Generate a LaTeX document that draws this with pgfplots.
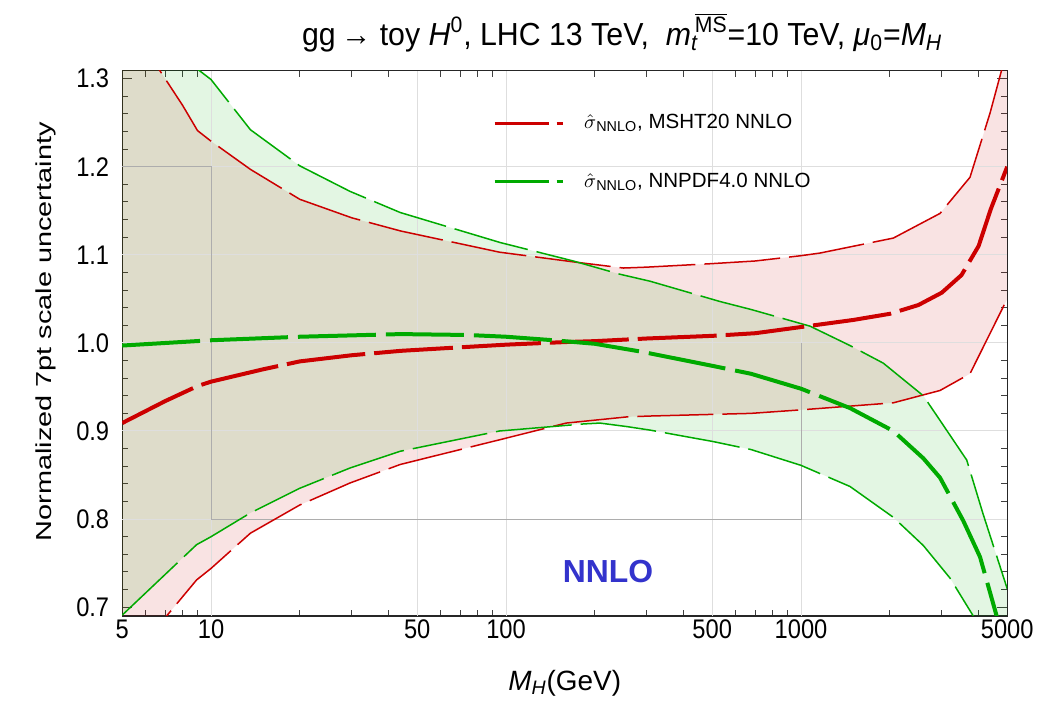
\documentclass[border=0pt]{standalone}
\usepackage{fontspec}
\setmainfont{Liberation Sans}
\newfontfamily\condsans{Liberation Sans}[FakeStretch=0.88]
\newfontfamily\titlesans{Liberation Sans}[FakeStretch=0.95]
\usepackage{graphicx}
\usepackage{pgfplots}
\pgfplotsset{compat=1.18}
\usepgfplotslibrary{fillbetween}
\definecolor{cred}{RGB}{204,0,0}
\definecolor{cgreen}{RGB}{0,170,0}
\definecolor{cblue}{RGB}{51,51,204}

\pgfplotstableread{
x y
5 0.909
7 0.934
9 0.951
10 0.956
15 0.970
20 0.979
30 0.986
44 0.991
70 0.995
100 0.998
160 1.001
200 1.002
300 1.005
500 1.008
700 1.011
1000 1.018
1500 1.026
2000 1.033
2500 1.043
3000 1.057
3500 1.077
4000 1.110
4400 1.152
5000 1.200
}\rc
\pgfplotstableread{
x y
5 1.380
6.68 1.310
8 1.270
9 1.241
10 1.229
13.6 1.197
20 1.163
30 1.142
44 1.127
95 1.103
169 1.092
250 1.085
300 1.086
500 1.090
700 1.093
1000 1.099
1160 1.102
2056 1.119
2960 1.147
3740 1.188
4374 1.261
4790 1.310
5000 1.335
}\ru
\pgfplotstableread{
x y
5 0.630
7.07 0.690
8.94 0.731
10 0.744
13.6 0.784
20 0.816
29.6 0.841
43.8 0.862
95 0.890
160 0.909
257 0.916
308 0.917
676 0.920
1000 0.924
2056 0.932
2960 0.946
3740 0.965
5000 1.050
}\rl
\pgfplotstableread{
x y
5 0.997
10 1.003
20 1.007
44 1.010
74 1.009
100 1.007
145 1.003
200 0.999
288 0.990
500 0.974
676 0.965
1000 0.948
1466 0.926
2056 0.900
2598 0.869
2960 0.847
3550 0.798
4045 0.757
4605 0.690
5000 0.649
}\gc
\pgfplotstableread{
x y
5 1.410
9.06 1.310
10 1.299
13.6 1.242
20 1.201
29.6 1.172
43.8 1.148
95.4 1.114
169 1.093
243 1.078
308 1.070
531 1.047
676 1.038
1073 1.019
1466 0.997
1901 0.977
2598 0.940
2960 0.912
3646 0.867
4140 0.806
5000 0.721
}\gu
\pgfplotstableread{
x y
5 0.691
8.94 0.771
10 0.780
13.6 0.807
20 0.835
29.6 0.858
43.8 0.877
95 0.900
183 0.908
208 0.909
257 0.905
308 0.901
504 0.888
676 0.879
1000 0.861
1466 0.837
2056 0.802
2598 0.770
3200 0.733
3837 0.690
5000 0.600
}\gl

\begin{document}
\begin{tikzpicture}
\begin{axis}[
  xmode=log, log basis x=10,
  scale only axis, width=442.5bp, height=272.65bp,
  xmin=5, xmax=5000, ymin=0.69, ymax=1.309,
  xtick={5,10,50,100,500,1000,5000},
  xticklabels={5,10,50,100,500,1000,5000},
  minor xtick={6,7,8,9,20,30,40,60,70,80,90,200,300,400,600,700,800,900,2000,3000,4000},
  ytick={0.7,0.8,0.9,1.0,1.1,1.2,1.3},
  yticklabels={0.7,0.8,0.9,1.0,1.1,1.2,1.3},
  minor ytick={0.72,0.74,0.76,0.78,0.82,0.84,0.86,0.88,0.92,0.94,0.96,0.98,1.02,1.04,1.06,1.08,1.12,1.14,1.16,1.18,1.22,1.24,1.26,1.28,1.30},
  tick label style={font=\condsans\fontsize{13.5}{14}\selectfont},
  /pgf/number format/assume math mode=true,
  xticklabel style={yshift=1.5bp},
  yticklabel style={xshift=-3bp},
  major tick length=5bp, minor tick length=3bp,
  tick style={black!75, line width=0.5bp},
  axis line style={black!85, line width=0.7bp},
  xlabel={\textit{M}\textsubscript{\textit{H}}(GeV)},
  xlabel style={font=\fontsize{14}{14}\selectfont, at={(axis description cs:0.5,0)}, anchor=base, yshift=-37bp},
  ylabel={\scalebox{1}[0.75]{Normalized 7pt scale uncertainty}},
  ylabel style={font=\fontsize{14.5}{14.5}\selectfont, at={(axis description cs:-0.0859,0.521)}, anchor=center},
  title={gg\,→ toy \textit{H}\textsuperscript{0}, LHC 13 TeV,\ \ \textit{m}\rlap{\textsubscript{\textit{t}}}\textsuperscript{\,$\overline{\mbox{MS}}$}=10 TeV, \textit{μ}\textsubscript{0}=\textit{M}\textsubscript{\textit{H}}},
  title style={font=\titlesans\fontsize{16}{16}\selectfont, at={(axis description cs:0.565,1)}, anchor=base, yshift=6.8bp},
  legend style={at={(axis description cs:0.412,0.9315)}, anchor=north west, draw=none, fill=none,
    font=\fontsize{10.3}{11}\selectfont, row sep=18.5bp, nodes={inner sep=1bp}},
  legend cell align=left,
]
\coordinate (ll) at (rel axis cs:0,0);
\coordinate (ur) at (rel axis cs:1,1);
% grid
\pgfplotsinvokeforeach{10,50,100,500,1000}{
  \draw[black!13, line width=0.5bp] (axis cs:#1,0.69) -- (axis cs:#1,1.309);
}
\pgfplotsinvokeforeach{0.8,0.9,1.0,1.1,1.2}{
  \draw[black!13, line width=0.5bp] (axis cs:5,#1) -- (axis cs:5000,#1);
}
\draw[black!32, line width=0.5bp] (axis cs:5,1.2) -- (axis cs:10,1.2) -- (axis cs:10,0.8) -- (axis cs:1000,0.8) -- (axis cs:1000,1.0);

\addlegendimage{legend image code/.code={\draw[cred, line width=1.5bp] (0bp,0bp) -- (27bp,0bp); \draw[cred, line width=1.5bp] (31bp,0bp) -- (34bp,0bp);}}
\addlegendentry{\hspace{9bp}$\hat{\sigma}$\textsubscript{NNLO}, MSHT20 NNLO}
\addlegendimage{legend image code/.code={\draw[cgreen, line width=1.5bp] (0bp,0bp) -- (27bp,0bp); \draw[cgreen, line width=1.5bp] (31bp,0bp) -- (34bp,0bp);}}
\addlegendentry{\hspace{9bp}$\hat{\sigma}$\textsubscript{NNLO}, NNPDF4.0 NNLO}

\addplot[name path=ru, cred, line width=0.75bp, dash pattern=on 38bp off 4.5bp, forget plot] table {\ru};
\addplot[name path=rl, cred, line width=0.75bp, dash pattern=on 38bp off 4.5bp, forget plot] table {\rl};
\addplot[name path=gu, cgreen, line width=0.75bp, dash pattern=on 38bp off 4.5bp, forget plot] table {\gu};
\addplot[name path=gl, cgreen, line width=0.75bp, dash pattern=on 38bp off 4.5bp, forget plot] table {\gl};
\addplot[fill=cred, fill opacity=0.11, draw=none, forget plot] fill between[of=ru and rl];
\addplot[fill=cgreen, fill opacity=0.11, draw=none, forget plot] fill between[of=gu and gl];
\addplot[cred, line width=2bp, dash pattern=on 39.5bp off 4.5bp, forget plot] table {\rc};
\addplot[cgreen, line width=2bp, dash pattern=on 39bp off 5bp, forget plot] table {\gc};

\node[font=\bfseries\fontsize{16}{16}\selectfont, text=cblue] at (axis cs:221.6,0.74) {NNLO};
\end{axis}
\pgfresetboundingbox
\path[use as bounding box] ([shift={(-61.1bp,-46.5bp)}]ll) rectangle ([shift={(19.4bp,35.35bp)}]ur);
\end{tikzpicture}
\end{document}
